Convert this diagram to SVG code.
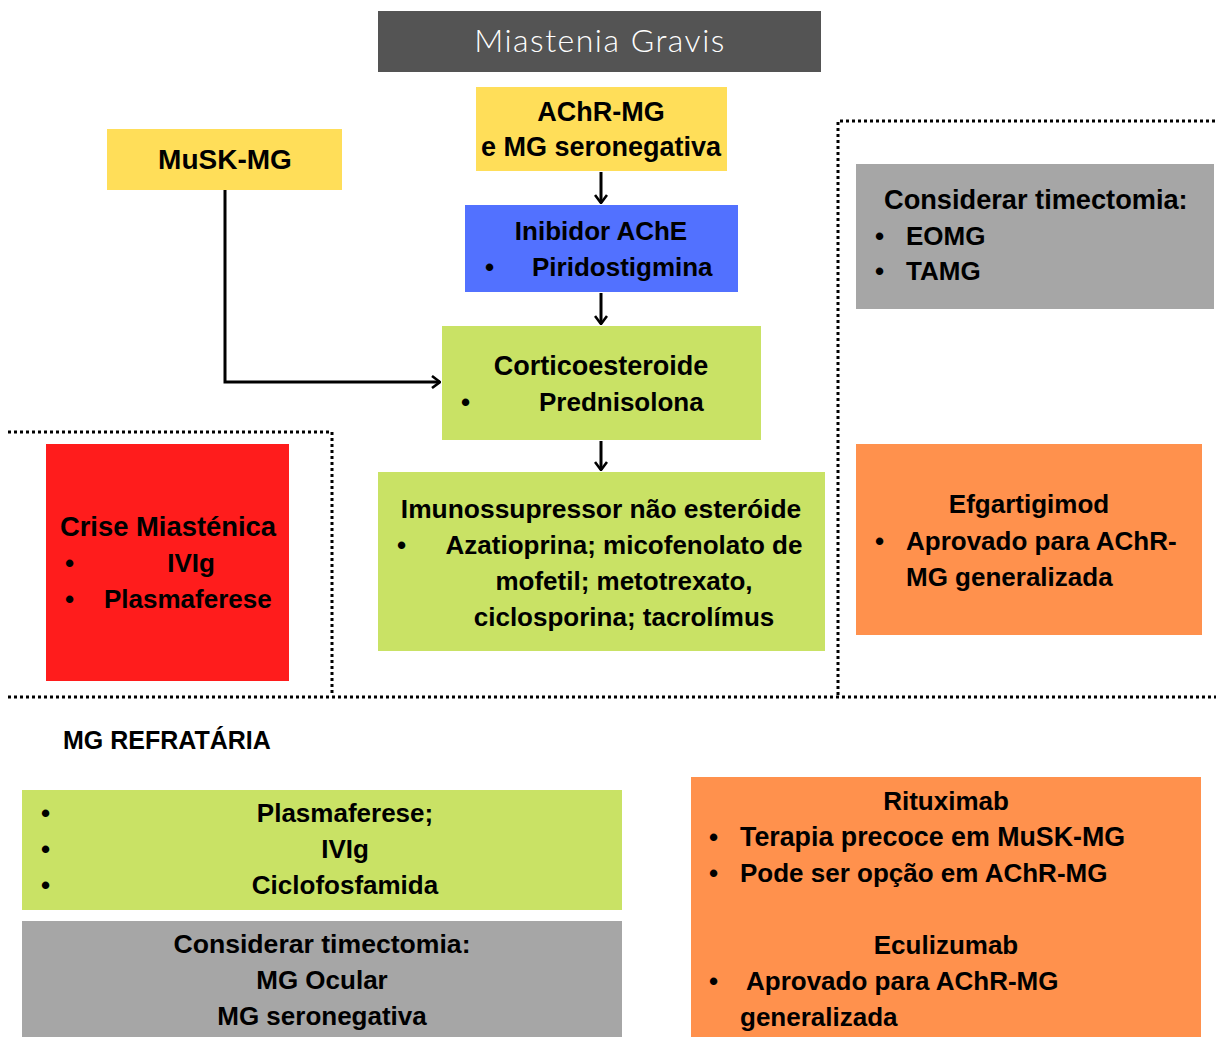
<svg xmlns="http://www.w3.org/2000/svg" width="1216" height="1037" viewBox="0 0 1216 1037">
<style>
.t{font-family:"Liberation Sans",Arial,sans-serif;font-weight:bold;font-size:26px;fill:#000}
.b{font-size:27px}
.c{text-anchor:middle}
.title{font-family:Lato,"Open Sans",sans-serif;font-weight:300;font-size:32px;letter-spacing:1.5px;fill:#fff;text-anchor:middle}
.dot{fill:none;stroke:#000;stroke-width:3;stroke-dasharray:3 3}
.con{fill:none;stroke:#000;stroke-width:3;marker-end:url(#arr)}
</style>
<defs>
<marker id="arr" viewBox="0 0 10 14" refX="9" refY="7" markerWidth="10" markerHeight="14" markerUnits="userSpaceOnUse" orient="auto">
<path d="M1,1 L9,7 L1,13" fill="none" stroke="#000" stroke-width="2.6"/>
</marker>
</defs>
<rect width="1216" height="1037" fill="#fff"/>

<g id="borders">
<path class="dot" d="M8,432 H332 V695"/>
<path class="dot" d="M8,697 H1216"/>
<path class="dot" d="M838,695 V121 H1216"/>
</g>

<g id="title">
<rect x="378" y="11" width="443" height="61" fill="#545454"/>
<text class="title" x="600" y="52">Miastenia Gravis</text>
</g>

<g id="achr">
<rect x="476" y="87" width="251" height="84" fill="#FFDE59"/>
<text class="t b c" x="601" y="121">AChR-MG</text>
<text class="t b c" x="601" y="156">e MG seronegativa</text>
</g>

<g id="musk">
<rect x="107" y="129" width="235" height="61" fill="#FFDE59"/>
<text class="t c" x="225" y="169" style="font-size:28px">MuSK-MG</text>
</g>

<g id="inibidor">
<rect x="465" y="205" width="273" height="87" fill="#5271FF"/>
<text class="t c" x="601" y="240">Inibidor AChE</text>
<text class="t" x="485" y="276">•</text>
<text class="t" x="532" y="276">Piridostigmina</text>
</g>

<g id="cortico">
<rect x="442" y="326" width="319" height="114" fill="#C9E265"/>
<text class="t b c" x="601" y="375">Corticoesteroide</text>
<text class="t" x="461" y="411">•</text>
<text class="t" x="539" y="411">Prednisolona</text>
</g>

<g id="imuno">
<rect x="378" y="472" width="447" height="179" fill="#C9E265"/>
<text class="t c" x="601" y="518" style="font-size:26.4px">Imunossupressor não esteróide</text>
<text class="t" x="397" y="554">•</text>
<text class="t c" x="624" y="554">Azatioprina; micofenolato de</text>
<text class="t c" x="624" y="590">mofetil; metotrexato,</text>
<text class="t c" x="624" y="626">ciclosporina; tacrolímus</text>
</g>

<g id="crise">
<rect x="46" y="444" width="243" height="237" fill="#FF1C1C"/>
<text class="t c" x="168" y="536" style="font-size:27.4px">Crise Miasténica</text>
<text class="t" x="65" y="572">•</text>
<text class="t c" x="191" y="572">IVIg</text>
<text class="t" x="65" y="608">•</text>
<text class="t" x="104" y="608">Plasmaferese</text>
</g>

<g id="timectomia1">
<rect x="856" y="164" width="358" height="145" fill="#A6A6A6"/>
<text class="t" x="884" y="209" style="font-size:27.2px">Considerar timectomia:</text>
<text class="t" x="875" y="245">•</text>
<text class="t" x="906" y="245">EOMG</text>
<text class="t" x="875" y="280">•</text>
<text class="t" x="906" y="280">TAMG</text>
</g>

<g id="efgartigimod">
<rect x="856" y="444" width="346" height="191" fill="#FF914D"/>
<text class="t c" x="1029" y="513">Efgartigimod</text>
<text class="t" x="875" y="550">•</text>
<text class="t" x="906" y="550">Aprovado para AChR-</text>
<text class="t" x="906" y="586">MG generalizada</text>
</g>

<g id="refrataria-label">
<text class="t" x="63" y="749" style="font-size:25px">MG REFRATÁRIA</text>
</g>

<g id="refrataria-tx">
<rect x="22" y="790" width="600" height="120" fill="#C9E265"/>
<text class="t" x="41" y="822">•</text>
<text class="t c" x="345" y="822">Plasmaferese;</text>
<text class="t" x="41" y="858">•</text>
<text class="t c" x="345" y="858">IVIg</text>
<text class="t" x="41" y="894">•</text>
<text class="t c" x="345" y="894">Ciclofosfamida</text>
</g>

<g id="timectomia2">
<rect x="22" y="921" width="600" height="116" fill="#A6A6A6"/>
<text class="t c" x="322" y="953" style="font-size:26.6px">Considerar timectomia:</text>
<text class="t c" x="322" y="989">MG Ocular</text>
<text class="t c" x="322" y="1025">MG seronegativa</text>
</g>

<g id="rituximab">
<rect x="691" y="777" width="510" height="260" fill="#FF914D"/>
<text class="t c" x="946" y="810">Rituximab</text>
<text class="t" x="709" y="846">•</text>
<text class="t" x="740" y="846" style="font-size:26.8px">Terapia precoce em MuSK-MG</text>
<text class="t" x="709" y="882">•</text>
<text class="t" x="740" y="882">Pode ser opção em AChR-MG</text>
<text class="t c" x="946" y="954">Eculizumab</text>
<text class="t" x="709" y="990">•</text>
<text class="t" x="746" y="990">Aprovado para AChR-MG</text>
<text class="t" x="740" y="1026">generalizada</text>
</g>

<g id="connectors">
<path class="con" d="M601,172 V203"/>
<path class="con" d="M601,293 V324"/>
<path class="con" d="M601,441 V470"/>
<path class="con" d="M225,190 V382 H440"/>
</g>
</svg>
